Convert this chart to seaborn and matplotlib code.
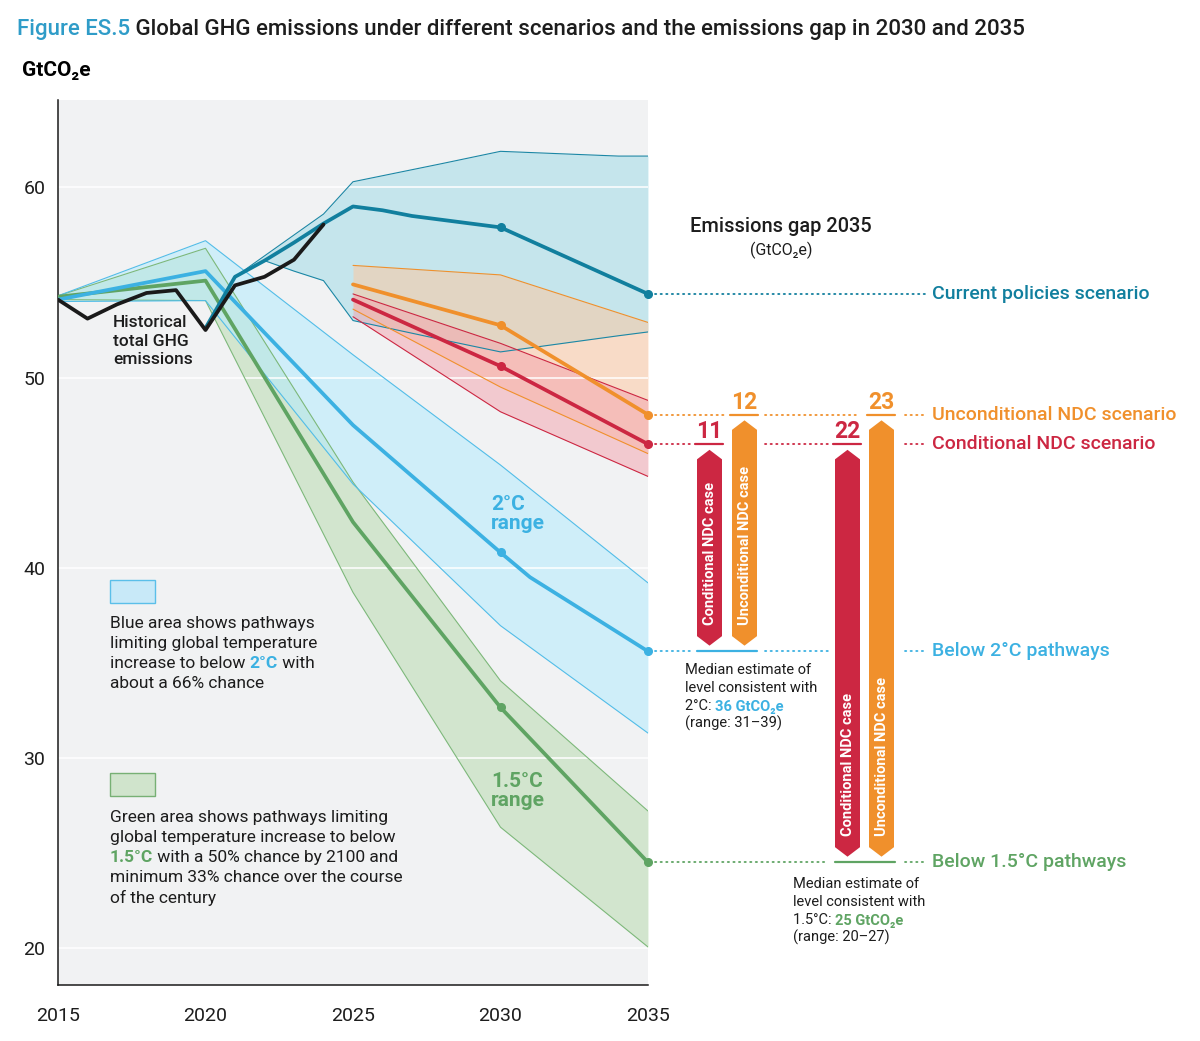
import numpy as np
import matplotlib.pyplot as plt
import seaborn as sns
from matplotlib.patches import Polygon, Rectangle
from matplotlib.font_manager import FontProperties

W, H = 1200, 1041

# ---------------- data (GtCO2e) ----------------
hist_years = [2015, 2016, 2017, 2018, 2019, 2020, 2021, 2022, 2023, 2024]
hist_vals = [54.1, 53.1, 53.85, 54.45, 54.6, 52.5, 54.85, 55.3, 56.2, 58.05]

cp_years = [2020, 2021, 2022, 2023, 2024, 2025, 2026, 2027, 2028, 2029, 2030, 2035]
cp_vals = [52.6, 55.3, 56.15, 57.1, 58.1, 59.0, 58.8, 58.5, 58.3, 58.1, 57.9, 54.4]
cp_band_years = [2021, 2022, 2023, 2024, 2025, 2028, 2030, 2034, 2035]
cp_hi = [55.3, 56.4, 57.5, 58.6, 60.3, 61.25, 61.9, 61.65, 61.65]
cp_lo = [55.3, 56.15, 55.6, 55.1, 53.0, 52.0, 51.35, 52.2, 52.4]

ndc_years = [2025, 2030, 2035]
uncond_vals = [54.9, 52.75, 48.05]
uncond_hi = [55.9, 55.4, 52.9]
uncond_lo = [53.6, 49.5, 46.0]
cond_vals = [54.1, 50.6, 46.5]
cond_hi = [54.4, 51.8, 48.8]
cond_lo = [53.2, 48.2, 44.8]

path_years = [2015, 2020, 2025, 2030, 2035]
c2_years = [2015, 2020, 2025, 2030, 2031, 2035]
c2_vals = [54.1, 55.6, 47.5, 40.8, 39.5, 35.6]
c2_hi = [54.3, 57.2, 51.2, 45.4, 39.2]
c2_lo = [54.0, 54.05, 44.4, 36.95, 31.3]
c15_vals = [54.25, 55.1, 42.4, 32.65, 24.5]
c15_hi = [54.3, 56.8, 44.5, 34.05, 27.2]
c15_lo = [54.1, 54.05, 38.7, 26.35, 20.05]

gap_numbers = ["11", "12", "22", "23"]
gap_cases = ["Conditional NDC case", "Unconditional NDC case",
             "Conditional NDC case", "Unconditional NDC case"]
scenario_labels = ["Current policies scenario", "Unconditional NDC scenario",
                   "Conditional NDC scenario", "Below 2°C pathways", "Below 1.5°C pathways"]

C_CP, C_UN, C_CO = "#117f9e", "#f0902c", "#cc2742"
C_2, C_15, C_TXT = "#3cb1e2", "#5fa463", "#1d1d1d"

sns.set_theme(style="white")
plt.rcParams["font.family"] = ["Roboto", "DejaVu Sans"]

fig = plt.figure(figsize=(W / 100, H / 100), dpi=100)
ax = fig.add_axes([58 / W, 56 / H, 590 / W, 885 / H])
ax.set_facecolor("#f1f2f3")
ylim = (18.05, 64.6)

# bands
bands = [
    (path_years, c15_lo, c15_hi, "#b9dcb1", 0.55),
    (path_years, c2_lo, c2_hi, "#b4ecff", 0.55),
    (cp_band_years, cp_lo, cp_hi, "#a2dbe8", 0.55),
    (ndc_years, uncond_lo, uncond_hi, "#ffc69c", 0.5),
    (ndc_years, cond_lo, cond_hi, "#f4a2ad", 0.5),
]
edge_cols = ["#7db87a", "#52bde8", "#1b87a5", "#f0902c", "#cc2742"]
for (yrs, lo, hi, col, a), ec in zip(bands, edge_cols):
    ax.fill_between(yrs, lo, hi, color=col, alpha=a, lw=0, zorder=1)
    ax.plot(yrs, lo, color=ec, lw=0.8, zorder=2)
    ax.plot(yrs, hi, color=ec, lw=0.8, zorder=2)

for v in [20, 30, 40, 50, 60]:
    ax.axhline(v, color="white", lw=1.1, zorder=1.5)

# median lines
series = [
    (path_years, c15_vals, C_15),
    (c2_years, c2_vals, C_2),
    (cp_years, cp_vals, C_CP),
    (ndc_years, uncond_vals, C_UN),
    (ndc_years, cond_vals, C_CO),
]
for yrs, vals, col in series:
    sns.lineplot(x=yrs, y=vals, color=col, lw=2.7, ax=ax, zorder=3)
    pts = [(x, y) for x, y in zip(yrs, vals) if x in (2030, 2035)]
    ax.plot([p[0] for p in pts], [p[1] for p in pts], "o", color=col, ms=5.5,
            zorder=4, clip_on=False)
sns.lineplot(x=hist_years, y=hist_vals, color="#1a1a1a", lw=2.7, ax=ax, zorder=3.5)

ax.set_xlim(2015, 2035)
ax.set_ylim(*ylim)
ax.set_xticks([2015, 2020, 2025, 2030, 2035])
ax.set_yticks([20, 30, 40, 50, 60])
ax.tick_params(axis="x", length=9.5, width=1, color="#222", pad=6, labelsize=14, labelcolor=C_TXT)
ax.tick_params(axis="y", length=0, pad=9, labelsize=14, labelcolor=C_TXT)
for s in ["top", "right"]:
    ax.spines[s].set_visible(False)
for s in ["left", "bottom"]:
    ax.spines[s].set_color("#1a1a1a")
    ax.spines[s].set_linewidth(1.1)

# ---------------- right-hand annotation panel ----------------
ax2 = fig.add_axes([648 / W, 56 / H, 552 / W, 885 / H])
ax2.set_xlim(648, 1200)
ax2.set_ylim(*ylim)
ax2.axis("off")
ax2.patch.set_alpha(0)

lv_cp, lv_un, lv_co = cp_vals[-1], uncond_vals[-1], cond_vals[-1]
lv_2, lv_15 = c2_vals[-1], c15_vals[-1]
levels = [lv_cp, lv_un, lv_co, lv_2, lv_15]
colors = [C_CP, C_UN, C_CO, C_2, C_15]

dot = dict(ls=(0, (0.7, 2.4)), lw=1.3, dash_capstyle="round")
dotted = [
    (lv_cp, [(655, 925)]),
    (lv_un, [(655, 725), (765, 860), (905, 925)]),
    (lv_co, [(655, 690), (765, 830), (905, 925)]),
    (lv_2, [(655, 690), (765, 830), (905, 925)]),
    (lv_15, [(655, 828), (905, 925)]),
]
for (lv, segs), col in zip(dotted, colors):
    for x0, x1 in segs:
        ax2.plot([x0, x1], [lv, lv], color=col, **dot)
solid = [(lv_2, 697, 757, C_2), (lv_15, 835, 895, C_15)]
for lv, x0, x1, col in solid:
    ax2.plot([x0, x1], [lv, lv], color=col, lw=1.6)

for lab, lv, col in zip(scenario_labels, levels, colors):
    ax2.text(932, lv, lab, color=col, fontsize=14, fontweight="medium", va="center")

# gap arrows
bar_x = [709.5, 744.5, 847.5, 881.5]
bar_top = [lv_co, lv_un, lv_co, lv_un]
bar_bot = [lv_2, lv_2, lv_15, lv_15]
bar_col = [C_CO, C_UN, C_CO, C_UN]
bw, ch, pad = 12.5, 0.5, 0.3
for xc, top, bot, col, num, case in zip(bar_x, bar_top, bar_bot, bar_col, gap_numbers, gap_cases):
    t, b = top - pad, bot + pad
    poly = Polygon([(xc - bw, t - ch), (xc, t), (xc + bw, t - ch),
                    (xc + bw, b + ch), (xc, b), (xc - bw, b + ch)],
                   closed=True, fc=col, ec="none")
    ax2.add_patch(poly)
    ax2.plot([xc - 14, xc + 14], [top, top], color=col, lw=1.6)
    ax2.text(xc, top + 0.3, num, color=col, fontsize=16.5, fontweight="bold",
             ha="center", va="baseline")
    ax2.text(xc + 0.5, b + 1.1, case, color="white", fontsize=10.5, fontweight="bold",
             rotation=90, ha="center", va="bottom")

# ---------------- text helpers ----------------
rend = fig.canvas.get_renderer()


def tw(s, size, weight):
    fp = FontProperties(family=["Roboto", "DejaVu Sans"], size=size, weight=weight)
    w1 = rend.get_text_width_height_descent(s + "|", fp, ismath=False)[0]
    w0 = rend.get_text_width_height_descent("|", fp, ismath=False)[0]
    return w1 - w0


def rich(x, y, parts, size):
    for s, col, wt in parts:
        fig.text(x / W, 1 - y / H, s, color=col, fontsize=size, fontweight=wt,
                 ha="left", va="center_baseline")
        x += tw(s, size, wt)


def ftext(x, y, s, **kw):
    fig.text(x / W, 1 - y / H, s, **kw)


rich(17, 27, [("Figure ES.5", "#2f9cc8", "medium"),
              (" Global GHG emissions under different scenarios and the emissions gap in 2030 and 2035",
               C_TXT, "medium")], 16)
ftext(22, 68, "GtCO₂e", fontsize=15, fontweight="bold", color="black", va="center_baseline")

ftext(113, 341, "Historical\ntotal GHG\nemissions", fontsize=12.5, fontweight="medium",
      color=C_TXT, va="center", linespacing=1.3)
ftext(491, 514, "2°C\nrange", fontsize=15, fontweight="bold", color=C_2, va="center",
      linespacing=1.0)
ftext(491, 791, "1.5°C\nrange", fontsize=15, fontweight="bold", color=C_15, va="center",
      linespacing=1.0)

# legend boxes
fig.add_artist(Rectangle((110 / W, 1 - 603 / H), 45 / W, 23 / H, transform=fig.transFigure,
                         fc="#c8e9f8", ec="#5bbfe9", lw=1))
fig.add_artist(Rectangle((110 / W, 1 - 796 / H), 45 / W, 23 / H, transform=fig.transFigure,
                         fc="#d0e4cc", ec="#77b074", lw=1))

n = "normal"
fs = 12.5
rich(110, 622, [("Blue area shows pathways", C_TXT, n)], fs)
rich(110, 642, [("limiting global temperature", C_TXT, n)], fs)
rich(110, 662, [("increase to below ", C_TXT, n), ("2°C", C_2, "bold"), (" with", C_TXT, n)], fs)
rich(110, 682, [("about a 66% chance", C_TXT, n)], fs)

rich(110, 816, [("Green area shows pathways limiting", C_TXT, n)], fs)
rich(110, 836, [("global temperature increase to below", C_TXT, n)], fs)
rich(110, 856, [("1.5°C", C_15, "bold"), (" with a 50% chance by 2100 and", C_TXT, n)], fs)
rich(110, 876, [("minimum 33% chance over the course", C_TXT, n)], fs)
rich(110, 896, [("of the century", C_TXT, n)], fs)

ftext(781, 225, "Emissions gap 2035", fontsize=14.4, fontweight="medium", color=C_TXT,
      ha="center", va="center_baseline")
ftext(781, 248, "(GtCO₂e)", fontsize=11.5, color=C_TXT, ha="center", va="center_baseline")

rich(685, 669, [("Median estimate of", C_TXT, n)], 10.5)
rich(685, 687, [("level consistent with", C_TXT, n)], 10.5)
rich(685, 705, [("2°C: ", C_TXT, n), ("36 GtCO₂e", C_2, "bold")], 10.5)
rich(685, 722, [("(range: 31–39)", C_TXT, n)], 10.5)

rich(793, 883, [("Median estimate of", C_TXT, n)], 10.5)
rich(793, 901, [("level consistent with", C_TXT, n)], 10.5)
rich(793, 919, [("1.5°C: ", C_TXT, n), ("25 GtCO₂e", C_15, "bold")], 10.5)
rich(793, 936, [("(range: 20–27)", C_TXT, n)], 10.5)

fig.savefig("out.png", dpi=100, facecolor="white")
